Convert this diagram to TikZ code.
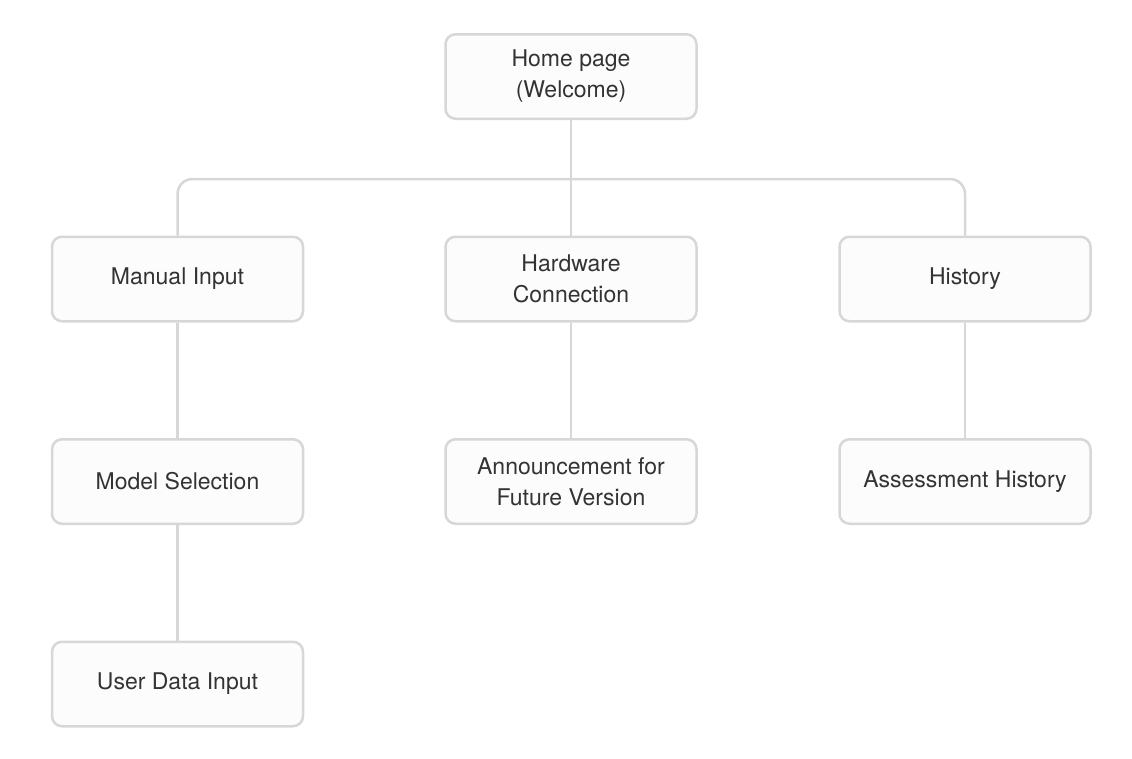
\documentclass[tikz,border=0pt]{standalone}
\usepackage{fontspec}
\setmainfont{TeX Gyre Heros}
\usetikzlibrary{positioning}
\definecolor{boxline}{HTML}{D7D7D7}
\definecolor{boxfill}{HTML}{FCFCFC}
\definecolor{boxtext}{HTML}{333333}
\tikzset{
    page/.style={draw=boxline, fill=boxfill, line width=2.5pt, rounded corners=10pt,
      minimum width=251pt, minimum height=84.5pt, inner sep=0pt, align=center,
      text=boxtext, font=\fontsize{23}{31}\selectfont},
    link/.style={draw=boxline, line width=2.5pt}}

\begin{document}
\begin{tikzpicture}[x=1pt,y=-1pt]
\useasboundingbox (0,0) rectangle (1132,758);
% pages
\node[page] (home) at (571,76.5) {Home page\\(Welcome)};
\node[page] (manual) at (177.5,279) {Manual Input};
\node[page] (hardware) at (571,279) {Hardware\\Connection};
\node[page] (history) at (965,279) {History};
\node[page] (model) at (177.5,481.5) {Model Selection};
\node[page] (announce) at (571,481.5) {Announcement for\\Future Version};
\node[page] (assess) at (965,481.5) {Assessment History};
\node[page] (userdata) at (177.5,684) {User Data Input};
% links
\coordinate (bus) at (571,179);
\draw[link, rounded corners=15pt] (manual.north) |- (bus) -| (history.north);
\draw[link] (home.south) -- (hardware.north);
\draw[link] (manual.south) -- (model.north);
\draw[link] (model.south) -- (userdata.north);
\draw[link] (hardware.south) -- (announce.north);
\draw[link] (history.south) -- (assess.north);
\end{tikzpicture}
\end{document}
